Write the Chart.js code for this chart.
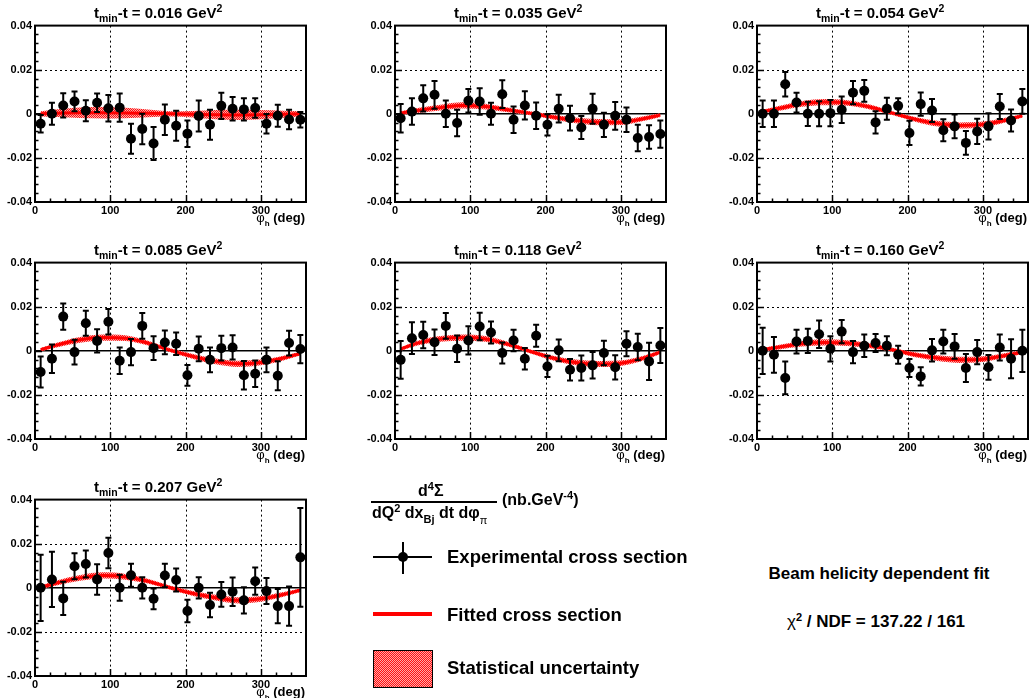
<!DOCTYPE html>
<html><head><meta charset="utf-8">
<script src="https://cdn.jsdelivr.net/npm/chart.js@4.4.1/dist/chart.umd.min.js"></script>
<style>
html,body{margin:0;padding:0;background:#fff;}
body{width:1030px;height:698px;position:relative;overflow:hidden;font-family:"Liberation Sans",Arial,sans-serif;font-weight:bold;color:#000;}
canvas{position:absolute;}
.t{position:absolute;white-space:nowrap;line-height:1;}
.lo{position:relative;}
.abs{position:absolute;}
</style></head><body>
<script>
// ---------------- data ----------------
const phiBins = [7.5,22.5,37.5,52.5,67.5,82.5,97.5,112.5,127.5,142.5,157.5,172.5,187.5,202.5,217.5,232.5,247.5,262.5,277.5,292.5,307.5,322.5,337.5,352.5];
const fitPhi = [7.5,30,60,90,120,150,180,210,240,270,300,330,352.5];
const tValues = ['0.016','0.035','0.054','0.085','0.118','0.160','0.207'];
const xTickValues = [0,100,200,300];
const yTickValues = [-0.04,-0.02,0,0.02,0.04];

const y1 = [-0.0045,0.0,0.0038,0.0056,0.0014,0.005,0.0025,0.0028,-0.0113,-0.0069,-0.0135,-0.0027,-0.0054,-0.009,-0.001,-0.005,0.0036,0.0023,0.002,0.0026,-0.0045,-0.0009,-0.0026,-0.0027];
const e1 = [0.004,0.005,0.0055,0.0045,0.0048,0.0042,0.006,0.0064,0.0068,0.0069,0.0075,0.0069,0.0068,0.006,0.007,0.0068,0.006,0.0053,0.005,0.0044,0.0044,0.005,0.0044,0.0035];
const y2 = [-0.002,0.001,0.007,0.0086,0.0,-0.0042,0.0059,0.0056,0.0,0.0089,-0.0027,0.0038,-0.0009,-0.005,0.0023,-0.002,-0.0062,0.0023,-0.005,-0.0009,-0.0027,-0.011,-0.0105,-0.0092];
const e2 = [0.0065,0.006,0.006,0.0063,0.006,0.006,0.0053,0.006,0.005,0.0063,0.006,0.0064,0.006,0.0048,0.0063,0.0056,0.0052,0.0068,0.0055,0.0063,0.0056,0.006,0.0053,0.0062];
const y3 = [0,0,0.0134,0.0051,0,0,0.0003,0.0018,0.0096,0.0104,-0.0039,0.0023,0.0036,-0.0087,0.0044,0.0015,-0.0075,-0.0057,-0.0132,-0.008,-0.0057,0.0033,-0.003,0.0056];
const e3 = [0.006,0.006,0.0056,0.0045,0.0055,0.0057,0.006,0.006,0.0053,0.0049,0.005,0.005,0.0035,0.0055,0.0053,0.0052,0.005,0.0054,0.0054,0.0057,0.006,0.0057,0.005,0.0056];
const y4 = [-0.0096,-0.0036,0.0155,-0.0006,0.0125,0.0045,0.0132,-0.0045,-0.0006,0.0113,0.0012,0.0038,0.0032,-0.0111,0.0009,-0.0041,0.0012,0.0015,-0.0111,-0.0104,-0.0041,-0.0113,0.0035,0.0008];
const e4 = [0.007,0.0065,0.006,0.0056,0.0057,0.0053,0.0058,0.006,0.006,0.0058,0.0054,0.0054,0.0051,0.0047,0.0056,0.0056,0.0056,0.0055,0.0065,0.006,0.0056,0.0066,0.0056,0.0064];
const y5 = [-0.0041,0.0057,0.0072,0.0039,0.0113,0.0009,0.0047,0.011,0.0083,-0.001,0.0047,-0.0036,0.0068,-0.0071,0.0002,-0.0086,-0.0078,-0.0066,-0.001,-0.0075,0.0032,0.0017,-0.0048,0.0024];
const e5 = [0.0086,0.0072,0.006,0.0058,0.0058,0.006,0.0064,0.0062,0.005,0.0048,0.0049,0.0049,0.005,0.0048,0.0049,0.0049,0.0057,0.006,0.0056,0.0055,0.0057,0.006,0.0084,0.0079];
const y6 = [0,-0.0018,-0.0123,0.0042,0.0045,0.0075,0.0009,0.0087,-0.0006,0.0023,0.0035,0.0023,-0.0018,-0.0078,-0.0116,0.0002,0.0042,0.002,-0.0078,-0.0006,-0.0075,0.0015,-0.0036,0];
const e6 = [0.0105,0.0081,0.0074,0.0054,0.0055,0.0062,0.0057,0.0053,0.0051,0.0051,0.0041,0.0043,0.0041,0.0041,0.0041,0.0051,0.0054,0.0056,0.0064,0.0055,0.0056,0.0059,0.0088,0.0096];
const y7 = [0,0.0038,-0.0048,0.0098,0.0108,0.0038,0.0158,0,0.0057,0,-0.005,0.0056,0.0035,-0.0105,0,-0.0078,-0.003,-0.0018,-0.0057,0.003,-0.0015,-0.0083,-0.0083,0.0138];
const e7 = [0.015,0.0125,0.0075,0.0059,0.0061,0.0069,0.0069,0.0059,0.0052,0.0048,0.0047,0.0053,0.0052,0.0051,0.0048,0.0055,0.0056,0.0065,0.0059,0.0062,0.0059,0.0078,0.0089,0.0224];

const fit1 = [0,0.0003,0.0005,0.0005,0.0004,0.0002,0,-0.0002,-0.0004,-0.0005,-0.0004,-0.0002,0];
const fit2 = [0.0003,0.0015,0.0028,0.0038,0.0033,0.0018,0.0002,-0.0015,-0.003,-0.0038,-0.0038,-0.0022,-0.0006];
const fit3 = [0.001,0.0025,0.0045,0.0053,0.0049,0.0031,0.0003,-0.0025,-0.0045,-0.0053,-0.0048,-0.0029,-0.0009];
const fit4 = [0.0005,0.0027,0.005,0.006,0.0057,0.0035,0.0002,-0.0026,-0.0048,-0.0059,-0.0053,-0.0033,-0.0012];
const fit5 = [0.0008,0.0035,0.0054,0.006,0.0054,0.003,-0.0003,-0.0033,-0.0053,-0.006,-0.0056,-0.0033,-0.0006];
const fit6 = [0.0005,0.0017,0.0032,0.0038,0.0035,0.0023,0.0005,-0.0018,-0.0033,-0.0041,-0.0038,-0.0021,-0.0006];
const fit7 = [0.0002,0.0023,0.0045,0.0056,0.005,0.003,0,-0.0026,-0.0045,-0.0057,-0.005,-0.003,-0.0011];

const band1 = [0.0012,0.0018,0.0024,0.0026,0.0024,0.0018,0.0012,0.0015,0.0021,0.0023,0.0021,0.0016,0.0012];
const band2 = [0.0008,0.0011,0.0013,0.0014,0.0013,0.0011,0.0009,0.0011,0.0013,0.0014,0.0013,0.0011,0.0008];

const panelData = [
  {t: tValues[0], y: y1, e: e1, fit: fit1, band: band1},
  {t: tValues[1], y: y2, e: e2, fit: fit2, band: band2},
  {t: tValues[2], y: y3, e: e3, fit: fit3, band: band2},
  {t: tValues[3], y: y4, e: e4, fit: fit4, band: band2},
  {t: tValues[4], y: y5, e: e5, fit: fit5, band: band2},
  {t: tValues[5], y: y6, e: e6, fit: fit6, band: band2},
  {t: tValues[6], y: y7, e: e7, fit: fit7, band: band2}
];

// ---------------- layout ----------------
const colLeft = [35, 395, 757];
const rowTop = [24, 261, 498];
const PW = 271, PH = 178;
const PADL = 45, PADT = 8, PADR = 6, PADB = 18;
const FONT = '"Liberation Sans", Arial, sans-serif';
Chart.defaults.font.family = FONT;

// hatch pattern
const pc = document.createElement('canvas'); pc.width = 2; pc.height = 2;
const pg = pc.getContext('2d');
pg.fillStyle = '#ffa8a8'; pg.fillRect(0,0,2,2);
pg.fillStyle = '#ff1010'; pg.fillRect(0,0,1,1); pg.fillRect(1,1,1,1);
const hatch = pg.createPattern(pc, 'repeat');

function addText(html, style) {
  const d = document.createElement('div');
  d.className = 't';
  d.innerHTML = html;
  Object.assign(d.style, style);
  document.body.appendChild(d);
  return d;
}

function makeDecor(p) {
  return {
    id: 'decor',
    beforeDatasetsDraw(chart) {
      const {ctx, chartArea: a, scales: {x, y}} = chart;
      ctx.save();
      ctx.strokeStyle = '#000'; ctx.lineWidth = 1; ctx.setLineDash([2, 3]);
      ctx.beginPath();
      for (const v of xTickValues) {
        if (v === 0) continue;
        const px = Math.round(x.getPixelForValue(v)) + 0.5;
        ctx.moveTo(px, a.top); ctx.lineTo(px, a.bottom);
      }
      for (const v of yTickValues) {
        if (v === 0 || Math.abs(v) >= 0.04) continue;
        const py = Math.round(y.getPixelForValue(v)) + 0.5;
        ctx.moveTo(a.left, py); ctx.lineTo(a.right, py);
      }
      ctx.stroke();
      ctx.setLineDash([]);
      ctx.lineWidth = 1.5;
      const y0 = y.getPixelForValue(0);
      ctx.beginPath(); ctx.moveTo(a.left, y0); ctx.lineTo(a.right, y0); ctx.stroke();
      ctx.restore();
    },
    afterDatasetsDraw(chart) {
      const {ctx, chartArea: a, scales: {x, y}} = chart;
      ctx.save();
      ctx.strokeStyle = '#000';
      ctx.lineWidth = 2;
      ctx.beginPath();
      phiBins.forEach((ph, i) => {
        const px = x.getPixelForValue(ph);
        const top = Math.max(a.top, y.getPixelForValue(p.y[i] + p.e[i]));
        const bot = Math.min(a.bottom, y.getPixelForValue(p.y[i] - p.e[i]));
        ctx.moveTo(px, top); ctx.lineTo(px, bot);
        ctx.moveTo(px - 3, top); ctx.lineTo(px + 3, top);
        ctx.moveTo(px - 3, bot); ctx.lineTo(px + 3, bot);
      });
      ctx.stroke();
      // ticks
      ctx.lineWidth = 1.5;
      ctx.beginPath();
      for (let v = 20; v < 360; v += 20) {
        const px = Math.round(x.getPixelForValue(v)) + 0.5;
        const len = (v % 100 === 0) ? 7 : 3.5;
        ctx.moveTo(px, a.bottom); ctx.lineTo(px, a.bottom - len);
      }
      for (let k = -9; k <= 9; k++) {
        const v = k * 0.004;
        const py = Math.round(y.getPixelForValue(v)) + 0.5;
        const len = (k % 5 === 0) ? 7 : 3.5;
        ctx.moveTo(a.left, py); ctx.lineTo(a.left + len, py);
      }
      ctx.stroke();
      // frame
      ctx.lineWidth = 2;
      ctx.strokeRect(a.left, a.top, a.right - a.left, a.bottom - a.top);
      ctx.restore();
    }
  };
}

panelData.forEach((p, idx) => {
  const col = idx % 3, row = Math.floor(idx / 3);
  const L = colLeft[col], T = rowTop[row];
  const cv = document.createElement('canvas');
  cv.width = PADL + PW + PADR; cv.height = PADT + PH + PADB;
  cv.style.left = (L - PADL) + 'px'; cv.style.top = (T - PADT) + 'px';
  cv.style.width = cv.width + 'px'; cv.style.height = cv.height + 'px';
  document.body.appendChild(cv);

  const pts = phiBins.map((ph, i) => ({x: ph, y: p.y[i]}));
  const fitPts = fitPhi.map((ph, i) => ({x: ph, y: p.fit[i]}));
  const lo = fitPhi.map((ph, i) => ({x: ph, y: p.fit[i] - p.band[i]}));
  const hi = fitPhi.map((ph, i) => ({x: ph, y: p.fit[i] + p.band[i]}));

  new Chart(cv.getContext('2d'), {
    type: 'scatter',
    data: {datasets: [
      {type: 'line', data: lo, borderWidth: 0, borderColor: 'rgba(0,0,0,0)', pointRadius: 0, fill: false, cubicInterpolationMode: 'monotone', order: 4},
      {type: 'line', data: hi, borderWidth: 0, borderColor: 'rgba(0,0,0,0)', pointRadius: 0, fill: '-1', backgroundColor: hatch, cubicInterpolationMode: 'monotone', order: 3},
      {type: 'line', data: fitPts, borderColor: '#ff0000', borderWidth: 3, pointRadius: 0, fill: false, cubicInterpolationMode: 'monotone', order: 2},
      {type: 'scatter', data: pts, pointRadius: 5, pointHoverRadius: 5, backgroundColor: '#000', borderWidth: 0, order: 1}
    ]},
    options: {
      responsive: false, animation: false, devicePixelRatio: 1,
      events: [],
      layout: {padding: {left: 0, top: PADT, right: PADR, bottom: 0}},
      plugins: {legend: {display: false}, tooltip: {enabled: false}},
      scales: {
        x: {
          type: 'linear', min: 0, max: 360,
          afterBuildTicks: s => { s.ticks = xTickValues.map(v => ({value: v})); },
          grid: {display: false, drawTicks: false}, border: {display: false},
          ticks: {color: '#000', font: {size: 11, weight: 'bold'}, padding: 2, maxRotation: 0, autoSkip: false, callback: v => String(v)},
          afterFit: s => { s.height = PADB; }
        },
        y: {
          type: 'linear', min: -0.04, max: 0.04,
          afterBuildTicks: s => { s.ticks = yTickValues.map(v => ({value: v})); },
          grid: {display: false, drawTicks: false}, border: {display: false},
          ticks: {color: '#000', font: {size: 11, weight: 'bold'}, padding: 3, autoSkip: false,
            callback: v => Math.abs(v) < 1e-9 ? '0' : v.toFixed(2)},
          afterFit: s => { s.width = PADL; }
        }
      }
    },
    plugins: [makeDecor(p)]
  });

  // title
  addText('t<span class="lo" style="font-size:10.5px;top:4px">min</span>-t = ' + p.t + ' GeV<span class="lo" style="font-size:10.5px;top:-6px">2</span>',
    {left: (L + 59) + 'px', top: (T - 19) + 'px', fontSize: '15px'});
  // x-axis title
  addText('<span style="font-weight:normal">&phi;</span><span class="lo" style="font-size:8px;top:4px">h</span> (deg)',
    {right: (1030 - (L + PW - 1)) + 'px', top: (T + PH + 9) + 'px', fontSize: '13px'});
});

// ---------------- legend area ----------------
addText('d<span class="lo" style="font-size:11px;top:-6px">4</span>&Sigma;', {left: '418px', top: '483px', fontSize: '16px'});
const bar = document.createElement('div'); bar.className = 'abs';
Object.assign(bar.style, {left: '371px', top: '501px', width: '126px', height: '2px', background: '#000'});
document.body.appendChild(bar);
addText('dQ<span class="lo" style="font-size:11px;top:-6px">2</span> dx<span class="lo" style="font-size:11px;top:5px">Bj</span> dt d&phi;<span class="lo" style="font-size:11px;top:6px;font-weight:normal">&pi;</span>',
  {left: '372px', top: '505px', fontSize: '16px'});
addText('(nb.GeV<span class="lo" style="font-size:11px;top:-6px">-4</span>)', {left: '502px', top: '492px', fontSize: '16px'});

// symbols
function box(st) { const d = document.createElement('div'); d.className = 'abs'; Object.assign(d.style, st); document.body.appendChild(d); return d; }
box({left: '373px', top: '556px', width: '59px', height: '1.5px', background: '#000'});
box({left: '402px', top: '542px', width: '1.5px', height: '32px', background: '#000'});
box({left: '398px', top: '552px', width: '10px', height: '10px', borderRadius: '50%', background: '#000'});
box({left: '373px', top: '612px', width: '59px', height: '4px', background: '#ff0000'});
const lb = document.createElement('canvas');
lb.width = 60; lb.height = 38;
Object.assign(lb.style, {left: '373px', top: '650px', width: '60px', height: '38px'});
document.body.appendChild(lb);
const lbc = lb.getContext('2d');
lbc.fillStyle = lbc.createPattern(pc, 'repeat');
lbc.fillRect(0, 0, 60, 38);
lbc.strokeStyle = '#000'; lbc.lineWidth = 1;
lbc.strokeRect(0.5, 0.5, 59, 37);

const LF = 18.5;
addText('Experimental cross section', {left: '447px', top: (557 - 0.49 * LF) + 'px', fontSize: LF + 'px'});
addText('Fitted cross section', {left: '447px', top: (615 - 0.49 * LF) + 'px', fontSize: LF + 'px'});
addText('Statistical uncertainty', {left: '447px', top: (668 - 0.49 * LF) + 'px', fontSize: LF + 'px'});

const RF = 17;
addText('Beam helicity dependent fit', {left: '879px', top: (573 - 0.49 * RF) + 'px', fontSize: RF + 'px', transform: 'translateX(-50%)'});
addText('<span style="font-weight:normal">&chi;</span><span class="lo" style="font-size:11px;top:-6px">2</span> / NDF = 137.22 / 161', {left: '876px', top: (621 - 0.49 * RF) + 'px', fontSize: RF + 'px', transform: 'translateX(-50%)'});
</script>
</body></html>
